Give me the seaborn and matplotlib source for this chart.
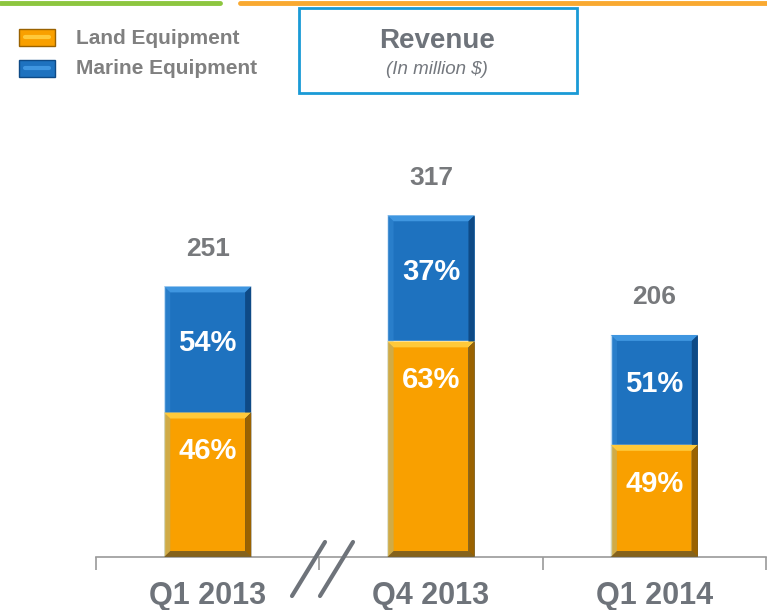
import numpy as np
import pandas as pd
import seaborn as sns
import matplotlib.pyplot as plt
from matplotlib.patches import Rectangle, Polygon
from matplotlib.lines import Line2D

# Revenue data (million $)
quarters = ["Q1 2013", "Q4 2013", "Q1 2014"]
total_rev = [251, 317, 206]
land_rev = [134, 200, 104]
land_pct = ["46%", "63%", "49%"]
marine_pct = ["54%", "37%", "51%"]

ORANGE = "#f9a000"
BLUE = "#1e72bf"
GRAY = "#6e737a"

sns.set_theme(style="white")
plt.rcParams["font.family"] = ["Liberation Sans", "DejaVu Sans"]

df = pd.DataFrame({"quarter": quarters, "total": total_rev, "land": land_rev})

fig = plt.figure(figsize=(7.67, 6.10), dpi=100)
ax = fig.add_axes([96 / 767, 53 / 610, 670 / 767, 457 / 610])

sns.barplot(data=df, x="quarter", y="total", color=BLUE, width=0.39,
            saturation=1, ax=ax)
sns.barplot(data=df, x="quarter", y="land", color=ORANGE, width=0.39,
            saturation=1, ax=ax)

ax.set_xlim(-0.5, 2.5)
ax.set_ylim(0, 424)


# bevel look on each bar segment, built from the patch geometry
def bevel(p, light, dark):
    x0, y0 = p.get_x(), p.get_y()
    w, h = p.get_width(), p.get_height()
    dx, dy = w * 0.07, 5.5
    x1, y1 = x0 + w, y0 + h
    ax.add_patch(Polygon([(x0, y1), (x1, y1), (x1 - dx, y1 - dy), (x0 + dx, y1 - dy)],
                         closed=True, color=light, lw=0, zorder=3))
    ax.add_patch(Polygon([(x1, y1), (x1, y0), (x1 - dx, y0 + dy), (x1 - dx, y1 - dy)],
                         closed=True, color=dark, lw=0, zorder=3))
    ax.add_patch(Polygon([(x0, y0), (x1, y0), (x1 - dx, y0 + dy), (x0 + dx, y0 + dy)],
                         closed=True, color=dark, lw=0, alpha=0.7, zorder=3))
    ax.add_patch(Polygon([(x0, y0), (x0 + dx, y0 + dy), (x0 + dx, y1 - dy), (x0, y1)],
                         closed=True, color=light, lw=0, alpha=0.35, zorder=3))


patches = list(ax.patches)
for p in patches[:3]:
    bevel(p, "#3f96e0", "#0e4a86")
for p in patches[3:6]:
    bevel(p, "#ffc93a", "#9a6200")

for i in range(len(quarters)):
    ax.text(i, total_rev[i] + 35, str(total_rev[i]), ha="center", va="center",
            fontsize=19, fontweight="bold", color="#77797c")
    ax.text(i, total_rev[i] - (total_rev[i] - land_rev[i]) * 0.45, marine_pct[i],
            ha="center", va="center", fontsize=21, fontweight="bold", color="white", zorder=4)
    ax.text(i, land_rev[i] - 36, land_pct[i], ha="center", va="center",
            fontsize=21, fontweight="bold", color="white", zorder=4)

# axis styling
sns.despine(ax=ax, left=True)
ax.spines["bottom"].set_color("#9a9a9a")
ax.spines["bottom"].set_linewidth(1.2)
ax.set_yticks([])
ax.set_xlabel("")
ax.set_ylabel("")
ax.set_xticks([0, 1, 2])
ax.set_xticklabels(quarters, fontsize=22, fontweight="bold", color=GRAY)
ax.set_xticks([-0.5, 0.5, 1.5, 2.5], minor=True)
ax.tick_params(axis="x", which="major", length=0, pad=17)
ax.tick_params(axis="x", which="minor", length=9, width=1.2, color="#9a9a9a",
               direction="out", bottom=True)

# axis break marks
for x0 in (292, 320):
    fig.add_artist(Line2D([x0 / 767, (x0 + 33) / 767], [14 / 610, 68 / 610],
                          color="#6e737a", lw=3))

# top decorative lines
fig.add_artist(Line2D([0, 220 / 767], [607 / 610, 607 / 610], color="#8dc63f", lw=3.5))
fig.add_artist(Line2D([240 / 767, 1], [607 / 610, 607 / 610], color="#f9a931", lw=3.5))

# title box
fig.add_artist(Rectangle((299 / 767, 517 / 610), 278 / 767, 85 / 610, fill=False,
                         edgecolor="#1a9ad6", lw=2, transform=fig.transFigure))
fig.text(437 / 767, 569 / 610, "Revenue", ha="center", va="center", fontsize=20,
         fontweight="bold", color=GRAY)
fig.text(437 / 767, 540 / 610, "(In million $)", ha="center", va="center", fontsize=13.5,
         style="italic", color="#74787e")

# legend
for yy, col, light, dark, label in [(572, ORANGE, "#ffc93a", "#9a6200", "Land Equipment"),
                                    (541, BLUE, "#3f96e0", "#0e4a86", "Marine Equipment")]:
    fig.add_artist(Rectangle((19 / 767, (yy - 8) / 610), 36 / 767, 17 / 610,
                             facecolor=col, edgecolor=dark, lw=1, transform=fig.transFigure))
    fig.add_artist(Line2D([25 / 767, 49 / 767], [(yy + 1) / 610, (yy + 1) / 610],
                          color=light, lw=3))
    fig.text(76 / 767, yy / 610, label, ha="left", va="center", fontsize=15,
             fontweight="bold", color="#808080")

fig.savefig("out.png", dpi=100)
